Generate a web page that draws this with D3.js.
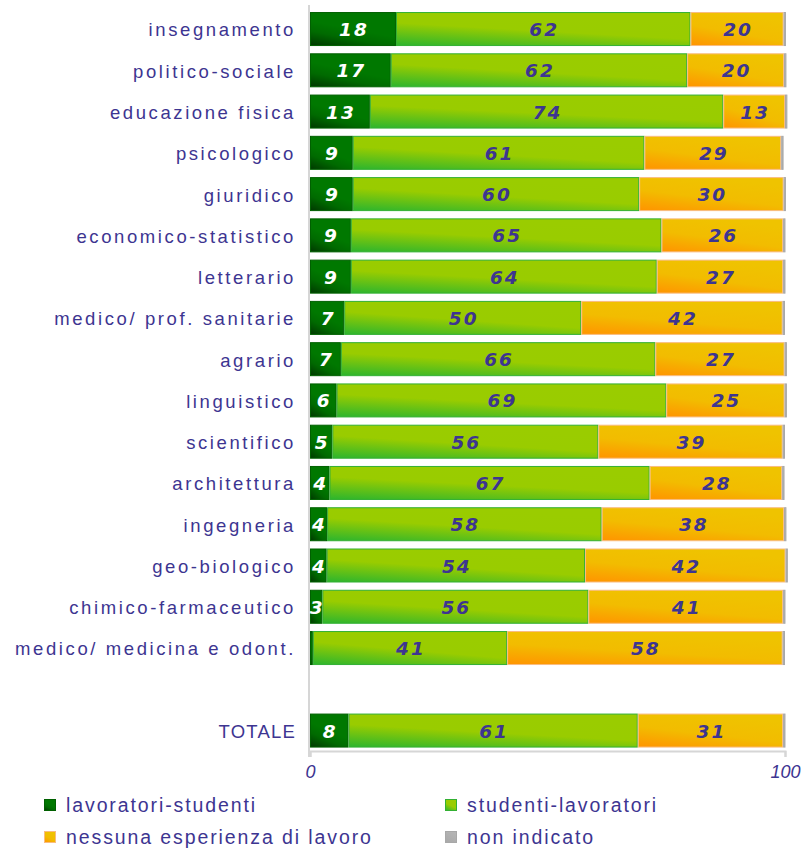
<!DOCTYPE html>
<html><head><meta charset="utf-8">
<script src="https://cdn.jsdelivr.net/npm/d3@7"></script>
<style>body{margin:0;background:#fff}svg{display:block}</style>
</head><body><svg id="c" width="808" height="849"></svg>
<script>
const categories = ["insegnamento","politico-sociale","educazione fisica","psicologico","giuridico","economico-statistico","letterario","medico/ prof. sanitarie","agrario","linguistico","scientifico","architettura","ingegneria","geo-biologico","chimico-farmaceutico","medico/ medicina e odont.","TOTALE"];
const lavoratoriStudenti = [18.1,17.0,12.6,9.0,9.0,8.6,8.6,7.2,6.5,5.6,4.7,4.1,3.6,3.5,2.6,0.6,8.1];
const studentiLavoratori = [62.0,62.4,74.4,61.4,60.3,65.4,64.4,49.9,66.2,69.4,56.0,67.4,57.8,54.4,56.0,40.9,60.9];
const nessunaEsperienza = [19.6,20.4,13.0,28.8,30.4,25.6,26.6,42.4,27.2,24.9,38.8,27.9,38.4,42.2,41.0,58.0,30.6];
const nonIndicato = [0.5,0.5,0.5,0.5,0.5,0.5,0.5,0.5,0.5,0.5,0.5,0.5,0.5,0.5,0.5,0.5,0.5];
const seriesNames = ["lavoratori-studenti","studenti-lavoratori","nessuna esperienza di lavoro","non indicato"];
const xTicks = [0,100];

const purple = "#3d3591";
const svg = d3.select("#c");
const defs = svg.append("defs");
function grad(id, x2, y2, stops){
  const g = defs.append("linearGradient").attr("id",id).attr("x1",0).attr("y1",1).attr("x2",x2).attr("y2",y2);
  stops.forEach(s=>g.append("stop").attr("offset",s[0]).attr("stop-color",s[1]));
}
grad("gDark",0.5,0,[[0,"#003800"],[0.35,"#006a00"],[0.6,"#007800"],[1,"#007800"]]);
grad("gGreen",0.5,0,[[0,"#2cb52e"],[0.55,"#99cc00"],[1,"#9acc00"]]);
grad("gOrange",0.5,0,[[0,"#ff9400"],[0.5,"#f2bc00"],[1,"#efc300"]]);
grad("gGray",0.5,0,[[0,"#a8a8a8"],[1,"#b4b4b4"]]);
const fills = ["url(#gDark)","url(#gGreen)","url(#gOrange)","url(#gGray)"];
const strokes = ["#006000","#33b033","#f8bc80","#a8a8a8"];
const labelColors = ["#ffffff",purple,purple,purple];

const domain = categories.slice(0,16).concat(["__gap"], categories.slice(16));
const y = d3.scaleBand().domain(domain).range([8.4,751.2]).paddingInner(0.176).paddingOuter(0.088);
const x = d3.scaleLinear().domain([0,100]).range([310,785]);

const rows = categories.map((c,i)=>({cat:c, vals:[lavoratoriStudenti[i],studentiLavoratori[i],nessunaEsperienza[i],nonIndicato[i]]}));
const stackData = rows.map(r=>{let acc=0; return r.vals.map((v,k)=>{const s={cat:r.cat,k,v,x0:acc,x1:acc+v}; acc+=v; return s;});});

// axis lines
svg.append("line").attr("x1",309).attr("x2",309).attr("y1",5).attr("y2",757).attr("stroke","#d6d6d6").attr("stroke-width",2);
const xAxis = d3.axisBottom(x).tickValues(xTicks).tickSize(6).tickFormat(d3.format("d"));
const xg = svg.append("g").attr("transform",`translate(0,${751})`).call(xAxis);
xg.select(".domain").attr("stroke","#d6d6d6").attr("stroke-width",2);
xg.selectAll(".tick line").attr("stroke","#d6d6d6").attr("stroke-width",2);
xg.selectAll(".tick text").attr("fill",purple).attr("font-family","Liberation Sans, Arial, sans-serif").attr("font-style","italic").attr("font-size",18).attr("dy","0.95em").attr("y",10);

// bars
const rowG = svg.append("g").selectAll("g").data(stackData).join("g");
rowG.selectAll("rect").data(d=>d).join("rect")
  .attr("x",d=>x(d.x0)+0.5).attr("y",d=>y(d.cat)+0.5)
  .attr("width",d=>Math.max(0,x(d.x1)-x(d.x0)-1)).attr("height",y.bandwidth()-1)
  .attr("fill",d=>fills[d.k]).attr("stroke",d=>strokes[d.k]).attr("stroke-width",1);
rowG.selectAll("text").data(d=>d.filter(s=>s.k<3 && s.v>=2)).join("text")
  .attr("x",d=>(x(d.x0)+x(d.x1))/2+1).attr("y",d=>y(d.cat)+y.bandwidth()/2+7)
  .attr("text-anchor","middle").attr("fill",d=>labelColors[d.k])
  .attr("font-family","DejaVu Sans, Verdana, sans-serif").attr("font-weight","bold").attr("font-style","italic")
  .attr("font-size",18.5).attr("letter-spacing","2px")
  .text(d=>Math.round(d.v));

// category labels
const yAxis = d3.axisLeft(y).tickSize(0).tickPadding(0).tickFormat(d=>d==="__gap"?"":d);
const yg = svg.append("g").attr("transform","translate(296,0)").call(yAxis);
yg.select(".domain").remove();
yg.selectAll(".tick text").attr("fill",purple).attr("font-family","Liberation Sans, Arial, sans-serif")
  .attr("font-size",18.5).attr("letter-spacing",d=>d==="TOTALE"?"1.2px":"2.6px").attr("dy","0.4em");

// legend
const legPos = [[44,805],[445,805],[44,837],[445,837]];
const lg = svg.append("g").selectAll("g").data(seriesNames).join("g").attr("transform",(d,i)=>`translate(${legPos[i][0]},${legPos[i][1]})`);
lg.append("rect").attr("x",0.5).attr("y",-5.5).attr("width",11).attr("height",11).attr("fill",(d,i)=>fills[i]).attr("stroke",(d,i)=>strokes[i]);
lg.append("text").attr("x",22).attr("y",7).attr("fill",purple).attr("font-family","Liberation Sans, Arial, sans-serif")
  .attr("font-size",19.5).attr("letter-spacing","1.9px").text(d=>d);
</script></body></html>
